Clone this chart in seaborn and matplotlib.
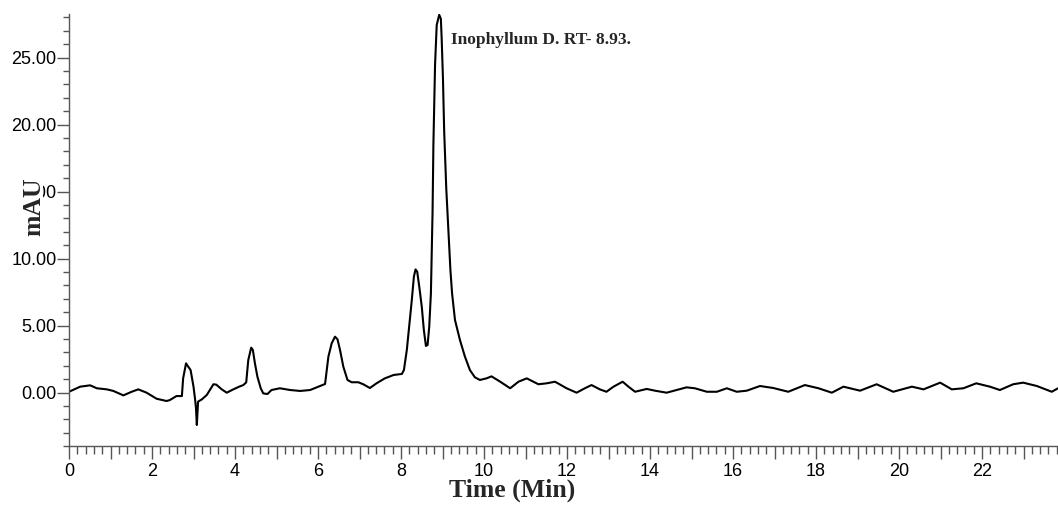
import matplotlib
matplotlib.use("Agg")
import matplotlib.pyplot as plt
from matplotlib.ticker import MultipleLocator, FuncFormatter
from matplotlib.patches import Rectangle
import seaborn as sns
import pandas as pd

# ---- data ----
time_min = [
    0.00, 0.27, 0.51, 0.67, 0.91, 1.07, 1.31, 1.51, 1.67, 1.87, 2.11, 2.35, 2.43, 2.59,
    2.72, 2.75, 2.82, 2.86, 2.93, 3.00, 3.04, 3.06, 3.08, 3.11, 3.20, 3.32, 3.48, 3.55,
    3.68, 3.80, 3.96, 4.10, 4.20, 4.27, 4.32, 4.39, 4.43, 4.48, 4.54, 4.62, 4.68, 4.78,
    4.88, 5.08, 5.33, 5.57, 5.81, 6.01, 6.17, 6.25, 6.33, 6.41, 6.47, 6.53, 6.61, 6.71,
    6.81, 6.97, 7.09, 7.25, 7.41, 7.61, 7.82, 8.02, 8.07, 8.14, 8.20, 8.26, 8.31, 8.35,
    8.39, 8.44, 8.50, 8.55, 8.60, 8.64, 8.68, 8.72, 8.74, 8.76, 8.78, 8.82, 8.86, 8.92,
    8.96, 8.98, 9.01, 9.04, 9.09, 9.13, 9.17, 9.19, 9.23, 9.30, 9.42, 9.54, 9.66, 9.78,
    9.90, 10.06, 10.18, 10.39, 10.63, 10.83, 11.03, 11.31, 11.51, 11.71, 11.99, 12.23,
    12.43, 12.59, 12.79, 12.95, 13.12, 13.34, 13.48, 13.64, 13.92, 14.12, 14.40, 14.64,
    14.88, 15.08, 15.37, 15.61, 15.85, 16.09, 16.33, 16.65, 16.97, 17.33, 17.73, 18.06,
    18.38, 18.66, 19.06, 19.46, 19.86, 20.31, 20.59, 20.99, 21.27, 21.55, 21.86, 22.19,
    22.43, 22.75, 22.99, 23.32, 23.68, 23.83,
]
absorbance_mau = [
    0.07, 0.45, 0.55, 0.33, 0.25, 0.13, -0.20, 0.07, 0.25, 0.00, -0.45, -0.62, -0.55, -0.25,
    -0.25, 1.07, 2.19, 2.00, 1.69, 0.45, -0.55, -1.17, -2.41, -0.67, -0.50, -0.17, 0.63, 0.60,
    0.25, 0.00, 0.25, 0.45, 0.57, 0.77, 2.44, 3.36, 3.19, 2.19, 1.19, 0.33, -0.05, -0.10,
    0.20, 0.33, 0.20, 0.13, 0.20, 0.45, 0.65, 2.69, 3.69, 4.18, 3.98, 3.19, 1.94, 0.95,
    0.78, 0.78, 0.63, 0.35, 0.70, 1.07, 1.32, 1.40, 1.69, 3.19, 5.05, 6.92, 8.66, 9.20,
    9.03, 7.91, 6.42, 4.68, 3.49, 3.56, 4.93, 7.42, 10.50, 13.50, 18.49, 24.46, 27.44, 28.20,
    27.90, 26.40, 23.50, 19.50, 15.25, 12.76, 10.28, 9.16, 7.42, 5.43, 3.93, 2.69, 1.69, 1.15,
    0.95, 1.07, 1.22, 0.82, 0.33, 0.82, 1.07, 0.63, 0.70, 0.82, 0.33, 0.00,
    0.33, 0.57, 0.25, 0.07, 0.45, 0.82, 0.45, 0.07, 0.28, 0.15, 0.00, 0.20,
    0.40, 0.33, 0.07, 0.07, 0.33, 0.07, 0.15, 0.50, 0.35, 0.07, 0.57, 0.33,
    0.00, 0.45, 0.15, 0.63, 0.07, 0.45, 0.25, 0.75, 0.25, 0.33, 0.70, 0.45,
    0.20, 0.63, 0.75, 0.50, 0.07, 0.33,
]
x_label = "Time (Min)"
y_label = "mAU"
peak_label = "Inophyllum D. RT- 8.93."
peak_label_pos = (9.2, 26.3)

df = pd.DataFrame({"time": time_min, "mAU": absorbance_mau})

sns.set_style("ticks")
plt.rcParams["font.family"] = ["Liberation Sans", "DejaVu Sans"]

W, H = 1058, 523
fig = plt.figure(figsize=(W / 100, H / 100), dpi=100)
ax_left, ax_bottom_px, ax_top_px = 69, 446.3, 14
ax_w_px = W - ax_left
ax_h_px = ax_bottom_px - ax_top_px
ax = fig.add_axes([ax_left / W, (H - ax_bottom_px) / H, ax_w_px / W, ax_h_px / H])


def ax_x(px):
    return (px - ax_left) / ax_w_px


def ax_y(py):
    return (ax_bottom_px - py) / ax_h_px


sns.lineplot(data=df, x="time", y="mAU", ax=ax, color="black", linewidth=1.5,
             estimator=None, sort=False)

ax.set_xlim(0, 23.83)
ax.set_ylim(-4, 28.26)

ax.xaxis.set_major_locator(MultipleLocator(1))
ax.xaxis.set_minor_locator(MultipleLocator(0.2))
ax.xaxis.set_major_formatter(FuncFormatter(
    lambda v, p: f"{int(round(v))}" if int(round(v)) % 2 == 0 else ""))
ax.yaxis.set_major_locator(MultipleLocator(5))
ax.yaxis.set_minor_locator(MultipleLocator(1))
ax.yaxis.set_major_formatter(FuncFormatter(lambda v, p: f"{v:.2f}"))

spine_col = "#555555"
for s in ["top", "right"]:
    ax.spines[s].set_visible(False)
for s in ["left", "bottom"]:
    ax.spines[s].set_color(spine_col)
    ax.spines[s].set_linewidth(1.0)

ax.tick_params(axis="both", which="both", direction="out", color=spine_col,
               width=1.0, labelcolor="black", labelsize=13)
ax.tick_params(axis="y", which="major", length=9, pad=0)
ax.tick_params(axis="y", which="minor", length=4.5)
ax.tick_params(axis="x", which="major", length=9, pad=3)
ax.tick_params(axis="x", which="minor", length=5.5)

serif_bold = dict(family=["Liberation Serif", "DejaVu Serif"], weight="bold")
ax.set_xlabel(x_label, fontsize=18.5, **serif_bold)
ax.xaxis.set_label_coords(ax_x(512), ax_y(490))
ax.xaxis.label.set_va("center")

# y label: white box that partly hides the "15.00" tick label, as in the original
ax.set_ylabel("")
ax.add_patch(Rectangle((ax_x(6), ax_y(240)), ax_x(43) - ax_x(6), ax_y(176) - ax_y(240),
                       transform=ax.transAxes, facecolor="white", edgecolor="none",
                       clip_on=False, zorder=2.9))
ax.text(ax_x(34), ax_y(207), y_label, rotation=90, ha="center", va="center",
        rotation_mode="anchor", transform=ax.transAxes, fontsize=18.5,
        clip_on=False, zorder=3, **serif_bold)

ax.text(peak_label_pos[0], peak_label_pos[1], peak_label, ha="left", va="center",
        fontsize=12.5, **serif_bold)

fig.savefig("out.png", dpi=100)
